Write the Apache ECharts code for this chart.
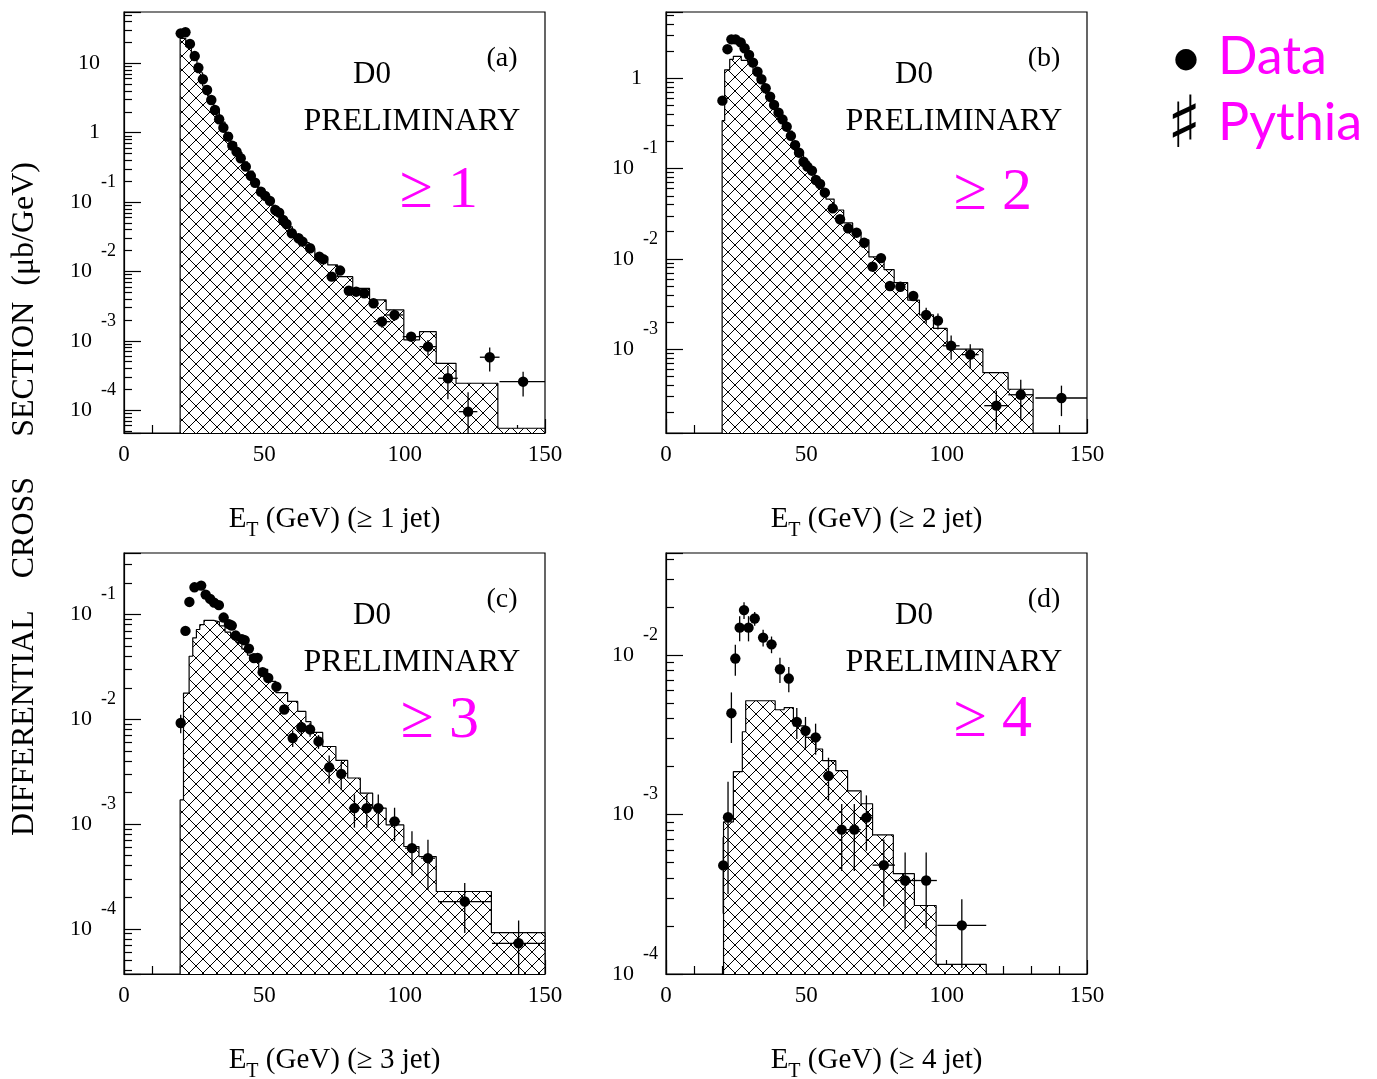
<!DOCTYPE html>
<html>
<head>
<meta charset="utf-8">
<title>D0 preliminary - jet ET spectra</title>
<script src="https://cdn.jsdelivr.net/npm/echarts/dist/echarts.min.js"></script>
<style>
    html, body { margin: 0; padding: 0; background: #fff; }
    #main { width: 1377px; height: 1079px; }
</style>
</head>
<body>
<div id="main"></div>
<script>
// ---- values ----
// (a) >= 1 jet
var aE = [20.2, 21.9, 23.5, 25.2, 26.5, 28.1, 29.6, 31.1, 32.4, 33.9, 35.4, 37.1, 38.6, 40.1, 41.6, 43.4, 45.2, 46.7, 48.8, 50.3,
    52.0, 53.9, 55.3, 56.7, 57.9, 59.8, 62.2, 63.6, 66.3, 69.6, 71.0, 74.0, 77.0, 80.1, 82.7, 85.6, 88.9, 91.9, 96.4, 102.3,
    108.3, 115.4, 122.6, 130.3, 142.2];
var aData = [27.0, 28.0, 19.0, 12.7, 8.6, 5.88, 4.12, 2.96, 2.12, 1.56, 1.18, 0.875, 0.650, 0.532, 0.428, 0.324, 0.238, 0.190, 0.141, 0.1225,
    0.104, 0.0769, 0.0703, 0.0552, 0.0483, 0.0355, 0.0301, 0.0269, 0.0216, 0.0163, 0.0150, 0.00841, 0.0103, 0.00528, 0.00511, 0.00485, 0.00348, 0.00189, 0.00236, 0.00115,
    0.000825, 0.000289, 0.0000955, 0.000581, 0.000258];
var aErr = [0.03, 0.03, 0.03, 0.03, 0.03, 0.03, 0.03, 0.03, 0.03, 0.03, 0.03, 0.03, 0.03, 0.03, 0.03, 0.03, 0.03, 0.03, 0.03, 0.03,
    0.03, 0.03, 0.03, 0.03, 0.03, 0.03, 0.06, 0.06, 0.06, 0.06, 0.06, 0.06, 0.1, 0.1, 0.1, 0.1, 0.1, 0.18, 0.18, 0.15,
    0.25, 0.5, 0.9, 0.38, 0.39];
var aHw = [0.75, 0.75, 0.75, 0.75, 0.75, 0.75, 0.75, 0.75, 0.75, 0.75, 0.75, 0.75, 0.75, 0.75, 0.75, 0.75, 0.75, 0.75, 0.75, 0.75,
    0.75, 0.75, 0.75, 0.75, 0.75, 0.75, 0.75, 0.75, 0.75, 0.75, 0.75, 1.5, 1.5, 1.5, 1.5, 1.5, 1.5, 3, 3, 3,
    3, 3.5, 3.3, 3.5, 8.4];
var aEdges = [20, 22, 24, 26, 28, 30, 32, 34, 36, 38, 40, 42, 44, 46, 48, 50, 52, 54, 56, 58, 60, 63, 66, 68, 72.6, 76.1, 81.5, 87.5,
    93.4, 99.7, 105.3, 111.25, 118.3, 133.2, 150];
var aPythia = [22.9, 17.5, 11.5, 7.3, 4.7, 3.1, 2.05, 1.42, 1.0, 0.72, 0.52, 0.38, 0.28, 0.205, 0.155, 0.118, 0.09, 0.07, 0.055, 0.044,
    0.034, 0.026, 0.021, 0.0163, 0.0124, 0.0084, 0.0057, 0.0039, 0.0028, 0.00103, 0.00136, 0.000475, 0.000245, 0.000055];

// (b) >= 2 jets
var bE = [20.1, 21.9, 23.3, 24.8, 26.6, 28.0, 29.6, 31.0, 32.6, 34.0, 35.5, 37.1, 38.5, 40.1, 41.5, 43.0, 44.5, 46.0, 47.4, 49.0,
    50.4, 52.0, 53.4, 54.9, 56.6, 59.4, 62.0, 64.9, 67.9, 70.6, 73.6, 76.6, 79.8, 83.5, 88.1, 92.7, 96.9, 101.6, 108.4, 117.7,
    126.4, 140.9];
var bData = [0.565, 2.10, 2.70, 2.70, 2.50, 2.15, 1.81, 1.49, 1.18, 0.975, 0.775, 0.625, 0.506, 0.416, 0.351, 0.291, 0.230, 0.182, 0.150, 0.119,
    0.105, 0.0948, 0.0748, 0.0675, 0.0541, 0.0363, 0.0275, 0.0218, 0.0195, 0.0151, 0.0082, 0.0102, 0.00501, 0.00492, 0.00388, 0.00239, 0.00207, 0.00109, 0.00087, 0.000237,
    0.000313, 0.000288];
var bErr = [0.03, 0.03, 0.03, 0.03, 0.03, 0.03, 0.03, 0.03, 0.03, 0.03, 0.03, 0.03, 0.03, 0.03, 0.03, 0.03, 0.03, 0.03, 0.03, 0.03,
    0.03, 0.03, 0.03, 0.03, 0.03, 0.03, 0.03, 0.03, 0.03, 0.03, 0.12, 0.12, 0.12, 0.12, 0.12, 0.2, 0.2, 0.3, 0.3, 0.46,
    0.47, 0.37];
var bHw = [0.75, 0.75, 0.75, 0.75, 0.75, 0.75, 0.75, 0.75, 0.75, 0.75, 0.75, 0.75, 0.75, 0.75, 0.75, 0.75, 0.75, 0.75, 0.75, 0.75,
    0.75, 0.75, 0.75, 0.75, 0.75, 0.75, 0.75, 0.75, 0.75, 0.75, 1.5, 1.5, 1.5, 1.5, 1.5, 1.5, 1.5, 3, 3, 4.3,
    4.45, 9.3];
var bEdges = [20, 20.9, 22.7, 24, 26.8, 29.2, 31, 33, 35, 37, 39, 41, 43, 45, 47, 49, 51, 53, 55, 57, 59.9, 63.3, 66.5, 69.5,
    72.3, 77.7, 81.3, 86.1, 90.3, 95.3, 100.2, 112.9, 121.9, 130.8];
var bPythia = [0.339, 1.24, 1.62, 1.75, 1.58, 1.45, 1.15, 0.90, 0.70, 0.55, 0.43, 0.34, 0.26, 0.20, 0.155, 0.12, 0.097, 0.075, 0.06, 0.046,
    0.0348, 0.025, 0.0195, 0.0162, 0.0105, 0.0076, 0.00546, 0.0035, 0.0024, 0.0017, 0.001, 0.00055, 0.00036];

// (c) >= 3 jets
var cE = [20.2, 21.9, 23.3, 25.1, 27.5, 29.1, 30.7, 32.1, 33.8, 35.5, 37.4, 38.4, 39.8, 42.0, 43.0, 44.5, 46.3, 47.6, 49.4, 51.4,
    54.3, 57.1, 60.1, 63.2, 66.3, 69.3, 73.1, 77.4, 82.1, 86.5, 90.6, 96.4, 102.6, 108.3, 121.4, 140.6];
var cData = [0.00922, 0.0698, 0.132, 0.182, 0.189, 0.155, 0.141, 0.130, 0.123, 0.0936, 0.0811, 0.0785, 0.0630, 0.0583, 0.0568, 0.0473, 0.0384, 0.0386, 0.0282, 0.0248,
    0.0205, 0.0124, 0.00662, 0.00840, 0.00800, 0.00615, 0.00348, 0.00301, 0.00142, 0.00142, 0.00142, 0.00106, 0.000589, 0.000472, 0.000182, 0.0000727];
var cErr = [0.2, 0.03, 0.03, 0.03, 0.03, 0.03, 0.03, 0.03, 0.03, 0.03, 0.03, 0.03, 0.03, 0.03, 0.03, 0.03, 0.03, 0.03, 0.03, 0.03,
    0.03, 0.08, 0.18, 0.15, 0.15, 0.15, 0.3, 0.3, 0.35, 0.35, 0.35, 0.35, 0.45, 0.5, 0.5, 0.65];
var cHw = [0.8, 0.8, 0.8, 0.8, 0.8, 0.8, 0.8, 0.8, 0.8, 0.8, 0.8, 0.8, 0.8, 0.8, 0.8, 0.8, 0.8, 0.8, 0.8, 0.8,
    0.8, 0.8, 1.5, 1.5, 1.5, 1.5, 1.5, 1.5, 2, 2, 2, 2, 2.5, 2.5, 9.5, 9.5];
var cEdges = [20, 21.2, 23.2, 24.5, 25.8, 27, 28.5, 32, 34, 36, 38, 40, 42, 44, 46, 48, 51.2, 54.1, 58.3, 61.9, 64.8, 66.6, 70.8,
    75.5, 79.7, 84.2, 88.6, 93.4, 99.7, 105.1, 111.25, 130.9, 150];
var cPythia = [0.0017, 0.0178, 0.040, 0.060, 0.072, 0.080, 0.088, 0.085, 0.078, 0.068, 0.060, 0.054, 0.047, 0.041, 0.036, 0.030,
    0.0230, 0.018, 0.0148, 0.0119, 0.0095, 0.0075, 0.0055, 0.00405, 0.00275, 0.00197, 0.00142, 0.00098, 0.00061, 0.000489, 0.000227, 0.000092];

// (d) >= 4 jets
var dE = [20.4, 22.1, 23.3, 24.7, 26.25, 27.8, 29.4, 31.6, 34.6, 37.6, 40.6, 43.75, 46.6, 49.7, 53.3, 57.9, 62.6, 67.1, 71.4, 77.6,
    85.2, 92.7, 105.4];
var dData = [4.80e-4, 9.64e-4, 4.33e-3, 9.53e-3, 0.0149, 0.0192, 0.0149, 0.0170, 0.0129, 0.0117, 0.00817, 0.00714, 0.00382, 0.00336, 0.00305, 0.00175, 8.05e-4, 8.05e-4, 9.57e-4, 4.82e-4,
    3.86e-4, 3.86e-4, 2.02e-4];
var dErr = [0.5, 0.67, 0.35, 0.22, 0.18, 0.12, 0.18, 0.1, 0.12, 0.12, 0.18, 0.18, 0.22, 0.22, 0.22, 0.3, 0.45, 0.45, 0.38, 0.45,
    0.5, 0.5, 0.46];
var dHw = [0.6, 0.6, 0.6, 0.7, 0.7, 0.8, 0.8, 1.2, 1.5, 1.5, 1.5, 1.5, 1.5, 1.5, 2, 2, 2.3, 2.3, 2.3, 4,
    4, 3.8, 8.7];
var dEdges = [20.5, 24, 27.2, 28.4, 38.9, 42.1, 45.4, 49.8, 53.4, 55.8, 60.5, 64.7, 69.5, 73.6, 81, 88.5, 96.25, 114.1];
var dPythia = [9.0e-4, 1.86e-3, 3.31e-3, 5.18e-3, 4.55e-3, 4.69e-3, 3.6e-3, 3.05e-3, 2.58e-3, 2.18e-3, 1.89e-3, 1.41e-3, 1.17e-3,
    7.46e-4, 4.26e-4, 2.69e-4, 1.15e-4];

// ---- layout ----
const SERIF = '"Liberation Serif", "DejaVu Serif", serif';
const MAGENTA = '#ff00ff';
const GRID_W = 421;
const GRID_H = 421;
const COL_LEFT = [124, 666];
const ROW_TOP = [12, 553];

var panels = [
    { tag: '(a)', jets: 1, col: 0, row: 0, yMin: 4.7e-5, yMax: 54.8, E: aE, data: aData, err: aErr, hw: aHw, edges: aEdges, pythia: aPythia, geq: [315, 179] },
    { tag: '(b)', jets: 2, col: 1, row: 0, yMin: 1.18e-4, yMax: 5.42, E: bE, data: bData, err: bErr, hw: bHw, edges: bEdges, pythia: bPythia, geq: [327, 181] },
    { tag: '(c)', jets: 3, col: 0, row: 1, yMin: 3.7e-5, yMax: 0.387, E: cE, data: cData, err: cErr, hw: cHw, edges: cEdges, pythia: cPythia, geq: [316, 168] },
    { tag: '(d)', jets: 4, col: 1, row: 1, yMin: 1.0e-4, yMax: 0.0438, E: dE, data: dData, err: dErr, hw: dHw, edges: dEdges, pythia: dPythia, geq: [327, 167] }
];

// cross-hatch tile for the Pythia histograms
var makeHatch = function () {
    const size = 14;
    let c = document.createElement('canvas');
    c.width = size;
    c.height = size;
    let ctx = c.getContext('2d');
    ctx.fillStyle = '#fff';
    ctx.fillRect(0, 0, size, size);
    ctx.strokeStyle = '#000';
    ctx.lineWidth = 1;
    ctx.beginPath();
    ctx.moveTo(-1, -1); ctx.lineTo(size + 1, size + 1);
    ctx.moveTo(size + 1, -1); ctx.lineTo(-1, size + 1);
    ctx.stroke();
    return c;
};
const hatch = makeHatch();

// 10^n style labels, blank on the non-decade boundary ticks
var logLabel = function (v) {
    let p = Math.log10(v);
    let n = Math.round(p);
    if (Math.abs(p - n) > 1e-6) return '';
    if (n === 0) return '{b|1}{s| }';
    if (n === 1) return '{b|10}{s| }';
    return '{b|10}{e|' + n + '}';
};

const grid = (p) => ({
    left: COL_LEFT[p.col],
    top: ROW_TOP[p.row],
    width: GRID_W,
    height: GRID_H,
    show: true,
    borderColor: '#000',
    borderWidth: 1.2,
    outerBoundsMode: 'none',
    containLabel: false
});

const xAxis = (p, i) => ({
    type: 'value',
    gridIndex: i,
    min: 0,
    max: 150,
    interval: 50,
    name: '{n|E}{t|T}{n| (GeV) (≥ ' + p.jets + ' jet)}',
    nameLocation: 'middle',
    nameGap: 64,
    nameMoveOverlap: false,
    nameTextStyle: {
        rich: {
            n: { fontFamily: SERIF, fontSize: 29, color: '#000' },
            t: { fontFamily: SERIF, fontSize: 20, color: '#000', padding: [24, 0, 0, 0] }
        }
    },
    axisLine: { onZero: false, lineStyle: { color: '#000', width: 1.2 } },
    axisTick: { inside: true, length: 14, lineStyle: { color: '#000', width: 1.2 } },
    minorTick: { show: true, splitNumber: 5, length: 8, lineStyle: { color: '#000', width: 1.2 } },
    splitLine: { show: false },
    axisLabel: { fontFamily: SERIF, fontSize: 23, color: '#000', margin: 10 }
});

const yAxis = (p, i) => ({
    type: 'log',
    logBase: 10,
    gridIndex: i,
    min: p.yMin,
    max: p.yMax,
    axisLine: { lineStyle: { color: '#000', width: 1.2 } },
    axisTick: { inside: true, length: 17, lineStyle: { color: '#000', width: 1.2 } },
    minorTick: { show: true, splitNumber: 9, length: 8, lineStyle: { color: '#000', width: 1.2 } },
    splitLine: { show: false },
    minorSplitLine: { show: false },
    axisLabel: {
        margin: 8,
        formatter: logLabel,
        rich: {
            b: { fontFamily: SERIF, fontSize: 22, color: '#000', verticalAlign: 'middle' },
            e: { fontFamily: SERIF, fontSize: 18, color: '#000', verticalAlign: 'middle', padding: [0, 0, 40, 9] },
            s: { fontSize: 10, width: 16 }
        }
    }
});

const histSeries = (p, i) => {
    let last = p.edges.length - 1;
    let pts = [[p.edges[0], p.yMin]];
    p.pythia.forEach((v, k) => pts.push([p.edges[k], v]));
    pts.push([p.edges[last], p.pythia[p.pythia.length - 1]]);
    pts.push([p.edges[last], p.yMin]);
    return {
        name: 'Pythia',
        type: 'line',
        xAxisIndex: i,
        yAxisIndex: i,
        step: 'end',
        symbol: 'none',
        clip: true,
        z: 2,
        data: pts,
        lineStyle: { color: '#000', width: 1.2 },
        areaStyle: { color: { image: hatch, repeat: 'repeat' }, opacity: 1, origin: 'start' }
    };
};

const pointSeries = (p, i) => ({
    name: 'Data',
    type: 'custom',
    xAxisIndex: i,
    yAxisIndex: i,
    clip: true,
    z: 5,
    encode: { x: 0, y: 1 },
    data: p.E.map((e, k) => [e, p.data[k], p.err[k], p.hw[k]]),
    renderItem: (params, api) => {
        let e = api.value(0), v = api.value(1), f = api.value(2), hw = api.value(3);
        let c = api.coord([e, v]);
        let hi = api.coord([e, v * (1 + f)]);
        let lo = api.coord([e, Math.max(v * (1 - f), p.yMin * 0.1)]);
        let l = api.coord([e - hw, v]);
        let r = api.coord([e + hw, v]);
        let st = { stroke: '#000', lineWidth: 1.3 };
        return {
            type: 'group',
            children: [
                { type: 'line', shape: { x1: c[0], y1: hi[1], x2: c[0], y2: lo[1] }, style: st },
                { type: 'line', shape: { x1: l[0], y1: c[1], x2: r[0], y2: c[1] }, style: st },
                { type: 'circle', shape: { cx: c[0], cy: c[1], r: 5.2 }, style: { fill: '#000' } }
            ]
        };
    }
});

// panel texts: D0 / PRELIMINARY / (x) / >= n
const panelTexts = (p) => {
    let x0 = COL_LEFT[p.col], y0 = ROW_TOP[p.row];
    let t = (x, y, text, size, color) => ({
        type: 'text',
        x: x0 + x,
        y: y0 + y,
        silent: true,
        style: { text: text, font: size + 'px ' + SERIF, fill: color || '#000', align: 'center', verticalAlign: 'middle' }
    });
    return [
        t(248, 63, 'D0', 31),
        t(288, 110, 'PRELIMINARY', 32),
        t(378, 47, p.tag, 28),
        t(p.geq[0], p.geq[1], '≥ ' + p.jets, 60, MAGENTA)
    ];
};

var graphics = [];
panels.forEach((p) => { graphics = graphics.concat(panelTexts(p)); });
graphics.push({
    type: 'text', x: 25, y: 499, rotation: Math.PI / 2, silent: true,
    style: { text: 'DIFFERENTIAL    CROSS     SECTION  (μb/GeV)', font: '32px ' + SERIF, fill: '#000', align: 'center', verticalAlign: 'middle' }
});
// key in the top right corner
graphics.push(
    { type: 'text', x: 1186, y: 60, silent: true, style: { text: '●', font: '28px "DejaVu Sans"', fill: '#000', align: 'center', verticalAlign: 'middle' } },
    { type: 'text', x: 1218, y: 57, silent: true, style: { text: 'Data', font: '52px Lato', fill: MAGENTA, align: 'left', verticalAlign: 'middle' } },
    { type: 'text', x: 1184, y: 128, silent: true, style: { text: '♯', font: 'bold 72px "DejaVu Sans"', fill: '#000', align: 'center', verticalAlign: 'middle' } },
    { type: 'text', x: 1218, y: 123, silent: true, style: { text: 'Pythia', font: '52px Lato', fill: MAGENTA, align: 'left', verticalAlign: 'middle' } }
);

var option = {
    backgroundColor: '#fff',
    animation: false,
    grid: panels.map(grid),
    xAxis: panels.map(xAxis),
    yAxis: panels.map(yAxis),
    series: panels.map(histSeries).concat(panels.map(pointSeries)),
    graphic: graphics
};

var myChart = echarts.init(document.getElementById('main'), null, { renderer: 'canvas' });
myChart.setOption(option);
</script>
</body>
</html>
